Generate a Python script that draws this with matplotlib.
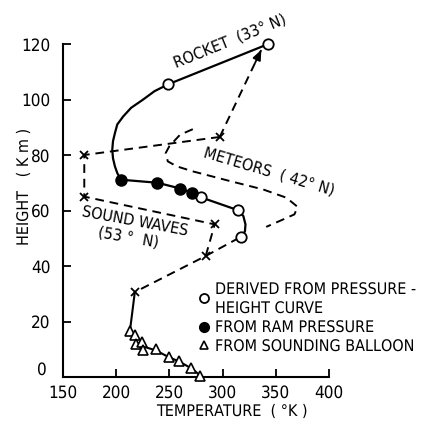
import matplotlib
matplotlib.use("Agg")
import matplotlib.pyplot as plt
from matplotlib import font_manager as fm
from matplotlib.transforms import ScaledTranslation

# ---------------- data ----------------
# Rocket (33 N) solid curve
rocket_T = [343, 249, 236, 225, 214, 206.6, 201, 198.8, 197, 196.3, 197, 198.8, 201, 204.4,
            238.8, 260.4, 271.3, 280, 314.5, 319.5, 321.5, 321, 317.6]
rocket_H = [120, 105.5, 103, 99.9, 97, 93.9, 91, 87.9, 85, 81.9, 78.8, 75.9, 73.5, 71.1,
            70, 67.9, 66.4, 64.7, 60.1, 58, 55, 52.5, 50.6]
# derived from pressure-height curve (open circles)
open_T = [343, 249, 280, 314.5, 317.6]
open_H = [120, 105.5, 64.7, 60.1, 50.6]
# from ram pressure (filled circles)
ram_T = [204.4, 238.8, 260.4, 271.3]
ram_H = [71.1, 70, 67.9, 66.4]
# sound waves (53 N) dashed with x markers
sound_T = [297.3, 170, 170, 292.6, 284.1, 217.5]
sound_H = [86.5, 80, 65, 55, 43.6, 30.6]
# dashed link from sound-wave point to rocket curve
link_T = [284.1, 317.6]
link_H = [43.6, 50.6]
# arrow from 86.5 km point toward rocket top
arrow_T = [297.3, 336.4]
arrow_H = [86.5, 117.9]
# meteors (42 N) dashed curve
meteor_T = [272, 260, 250, 246.5, 248.5, 257, 272, 307, 338, 360, 370.5, 367.5, 353.5, 341]
meteor_H = [89.3, 87.3, 83.2, 80.7, 77.7, 75.9, 74.1, 70.6, 67.6, 64.6, 61.3, 58.6, 56.2, 54.1]
# sounding balloon (triangles)
balloon_T = [212.9, 217.5, 218.5, 224.4, 225.3, 237.2, 249.7, 259.1, 270.7, 279.1]
balloon_H = [16.6, 15.1, 11.9, 12.5, 9.7, 10.1, 7.1, 5.9, 3.1, 0.5]
# solid line through balloon region
bline_T = [217.5, 212.9, 217.5, 221, 237.2, 249.7, 259.1, 270.7, 279.1]
bline_H = [30.6, 16.6, 14.0, 11.5, 9.6, 7.1, 5.6, 3.1, 0.5]

x_ticks = [150, 200, 250, 300, 350, 400]
y_ticks = [0, 20, 40, 60, 80, 100, 120]

plt.rcParams['text.hinting'] = 'no_hinting'
plt.rcParams['text.hinting_factor'] = 1

# ---------------- font: prefer a static narrow/condensed sans ----------------
def pick_font():
    prefs = ['dejavusanscondensed.ttf', 'liberationsansnarrowregular',
             'robotocondensedregular', 'notosanscondensed.ttf',
             'notosanscondensedregular', 'opensanscondensedregular',
             'archivonarrowregular', 'ptsansnarrowregular', 'ptsansnarrowwebregular',
             'firasanscondensedregular', 'ibmplexsanscondensedregular',
             'barlowcondensedregular', 'sairasemicondensedregular']
    files = {}
    for f in fm.fontManager.ttflist:
        fn = f.fname.split('/')[-1]
        if '[' in fn:
            continue
        key = fn.lower().replace('-', '').replace('_', '')
        files.setdefault(key, f.fname)
    for p in prefs:
        for key, path in files.items():
            if key.startswith(p) or key == p:
                return fm.FontProperties(fname=path), p
    return fm.FontProperties(family=['Liberation Sans', 'DejaVu Sans']), None


FP, WHICH = pick_font()
if WHICH == 'dejavusanscondensed.ttf':
    FS, TS = 11.5, 12.3
elif WHICH is None:
    FS, TS = 10.5, 10.5
else:
    FS, TS = 13.5, 13.5


def fp(size):
    p = FP.copy()
    p.set_size(size)
    return p


fig = plt.figure(figsize=(4.22, 4.23), dpi=100)
W, H = 422, 423
ax = fig.add_axes([63 / W, 1 - 377 / H, (329 - 63) / W, (377 - 44) / H])
ax.set_xlim(150, 400)
ax.set_ylim(0, 120)
for s in ['top', 'right']:
    ax.spines[s].set_visible(False)
for s in ['left', 'bottom']:
    ax.spines[s].set_linewidth(1.5)
ax.set_xticks(x_ticks)
ax.set_yticks(y_ticks)
ax.tick_params(direction='in', length=6, width=1.3, pad=6)
ax.tick_params(axis='y', pad=9)
for lbl in ax.get_xticklabels() + ax.get_yticklabels():
    lbl.set_fontproperties(fp(TS))
# the "0" label sits a little above the axis line in the original
lbl0 = ax.yaxis.get_major_ticks()[0].label1
lbl0.set_transform(lbl0.get_transform() + ScaledTranslation(-4 / 100, 9 / 100, fig.dpi_scale_trans))

dash = (0, (4.5, 3))
ax.plot(rocket_T, rocket_H, color='black', lw=1.6, solid_joinstyle='round', zorder=2)
ax.plot(meteor_T, meteor_H, color='black', lw=1.4, linestyle=dash, zorder=2)
ax.plot(sound_T, sound_H, color='black', lw=1.4, linestyle=dash, marker='x',
        markersize=6, markeredgewidth=1.3, zorder=3)
ax.plot(link_T, link_H, color='black', lw=1.4, linestyle=dash, zorder=2)
ax.plot(bline_T, bline_H, color='black', lw=1.5, zorder=2)
ax.plot(arrow_T, arrow_H, color='black', lw=1.4, linestyle=dash, zorder=2)
ax.annotate('', xy=(arrow_T[1], arrow_H[1]),
            xytext=(arrow_T[0] + (arrow_T[1] - arrow_T[0]) * 0.85,
                    arrow_H[0] + (arrow_H[1] - arrow_H[0]) * 0.85),
            arrowprops=dict(arrowstyle='-|>,head_length=0.6,head_width=0.25',
                            color='black', lw=1.3, shrinkA=0, shrinkB=0))
ax.plot(open_T, open_H, linestyle='none', marker='o', markersize=7.5,
        markerfacecolor='white', markeredgecolor='black', markeredgewidth=1.3,
        zorder=4, clip_on=False)
ax.plot(ram_T, ram_H, linestyle='none', marker='o', markersize=8,
        color='black', zorder=4)
ax.plot(balloon_T, balloon_H, linestyle='none', marker='^', markersize=7,
        markerfacecolor='white', markeredgecolor='black', markeredgewidth=1.2,
        zorder=4, clip_on=False)

# curve labels
ax.text(306.7, 120.8, 'ROCKET  (33° N)', rotation=22, ha='center', va='center',
        fontproperties=fp(FS), clip_on=False)
ax.text(344, 73.7, 'METEORS  ( 42° N)', rotation=-16.5, ha='center', va='center',
        fontproperties=fp(FS))
ax.text(217.5, 55.7, 'SOUND WAVES', rotation=-10.5, ha='center', va='center',
        fontproperties=fp(FS))
ax.text(211, 50.3, '(53 °  N)', rotation=-10, ha='center', va='center',
        fontproperties=fp(FS))

# legend (manual)
leg_x = 215 / W
rows = [(290, 'DERIVED FROM PRESSURE -'), (309, 'HEIGHT CURVE'),
        (328, 'FROM RAM PRESSURE'), (347, 'FROM SOUNDING BALLOON')]
for yy, t in rows:
    fig.text(leg_x, 1 - yy / H, t, fontproperties=fp(FS), ha='left', va='center')
fig.lines.append(plt.Line2D([204 / W], [1 - 298 / H], transform=fig.transFigure,
                            marker='o', markersize=6.5, markerfacecolor='white',
                            markeredgecolor='black', markeredgewidth=1.3, linestyle='none'))
fig.lines.append(plt.Line2D([204 / W], [1 - 327 / H], transform=fig.transFigure,
                            marker='o', markersize=7, color='black', linestyle='none'))
fig.lines.append(plt.Line2D([204 / W], [1 - 345 / H], transform=fig.transFigure,
                            marker='^', markersize=6, markerfacecolor='white',
                            markeredgecolor='black', markeredgewidth=1.2, linestyle='none'))

# axis titles
fig.text(232 / W, 1 - 411 / H, 'TEMPERATURE  ( °K )', fontproperties=fp(FS),
         ha='center', va='center')
fig.text(24 / W, 1 - 186 / H, 'HEIGHT   ( K m )', fontproperties=fp(FS), rotation=90,
         ha='center', va='center')

fig.savefig('out.png', dpi=100)
